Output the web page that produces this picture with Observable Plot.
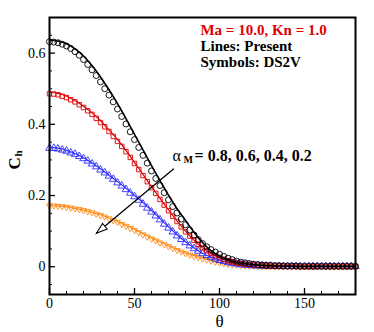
<!DOCTYPE html>
<html><head><meta charset="utf-8">
<script src="https://cdn.jsdelivr.net/npm/d3@7"></script>
<script src="https://cdn.jsdelivr.net/npm/@observablehq/plot@0.6"></script>
<style>body{margin:0;background:#fff}</style>
</head><body><div id="chart"></div>
<script>
// Angle grids (degrees)
const thetaLine = [0,5,10,15,20,25,30,35,40,45,50,55,60,65,70,75,80,85,90,95,100,105,110,115,120,125,130,135,140,145,150,155,160,165,170,175,180];
const thetaDS2V = [0,2.5,5,7.5,10,12.5,15,17.5,20,22.5,25,27.5,30,32.5,35,37.5,40,42.5,45,47.5,50,52.5,55,57.5,60,62.5,65,67.5,70,72.5,75,77.5,80,82.5,85,87.5,90,92.5,95,97.5,100,102.5,105,107.5,110,112.5,115,117.5,120,122.5,125,127.5,130,132.5,135,137.5,140,142.5,145,147.5,150,152.5,155,157.5,160,162.5,165,167.5,170,172.5,175,177.5,180];

// Present (lines), alpha_M = 0.8, 0.6, 0.4, 0.2
const lineA08 = [0.637,0.634,0.626,0.612,0.592,0.565,0.533,0.497,0.458,0.416,0.372,0.328,0.284,0.242,0.201,0.163,0.130,0.097,0.068,0.045,0.030,0.020,0.013,0.009,0.006,0.004,0.003,0.002,0.002,0.001,0.001,0.001,0.001,0.001,0.001,0.001,0.001];
const lineA06 = [0.490,0.487,0.479,0.467,0.451,0.432,0.410,0.384,0.357,0.327,0.293,0.259,0.225,0.192,0.160,0.129,0.100,0.074,0.053,0.037,0.025,0.017,0.011,0.007,0.005,0.003,0.002,0.002,0.001,0.001,0.001,0.001,0.001,0.001,0.001,0.001,0.001];
const lineA04 = [0.335,0.333,0.327,0.318,0.306,0.291,0.275,0.257,0.239,0.220,0.200,0.180,0.158,0.135,0.112,0.090,0.070,0.053,0.038,0.027,0.019,0.013,0.008,0.005,0.004,0.003,0.002,0.001,0.001,0.001,0.001,0.001,0.001,0.001,0.001,0.001,0.001];
const lineA02 = [0.172,0.171,0.168,0.164,0.159,0.153,0.146,0.137,0.127,0.116,0.105,0.093,0.081,0.070,0.059,0.048,0.039,0.031,0.024,0.017,0.012,0.008,0.005,0.003,0.002,0.001,0.001,0,0,0,0,0,0,0,0,0,0];

// DS2V (symbols)
const dsA08 = [0.632,0.631,0.629,0.625,0.620,0.613,0.604,0.594,0.582,0.568,0.553,0.537,0.519,0.500,0.482,0.463,0.443,0.422,0.401,0.379,0.357,0.335,0.313,0.291,0.269,0.248,0.228,0.208,0.188,0.169,0.151,0.134,0.118,0.103,0.089,0.076,0.065,0.056,0.048,0.041,0.035,0.029,0.024,0.020,0.016,0.013,0.011,0.009,0.007,0.006,0.005,0.004,0.004,0.003,0.003,0.002,0.002,0.002,0.002,0.001,0.001,0.001,0.001,0.001,0.001,0.001,0.001,0.001,0.001,0.001,0.001,0.001,0.001];
const dsA06 = [0.486,0.485,0.483,0.479,0.475,0.469,0.463,0.455,0.447,0.438,0.428,0.417,0.405,0.393,0.380,0.366,0.352,0.338,0.323,0.307,0.290,0.273,0.256,0.239,0.222,0.206,0.189,0.173,0.157,0.142,0.127,0.112,0.098,0.086,0.074,0.063,0.053,0.045,0.038,0.031,0.026,0.021,0.017,0.014,0.011,0.009,0.007,0.006,0.005,0.004,0.003,0.003,0.002,0.002,0.002,0.002,0.001,0.001,0.001,0.001,0.001,0.001,0.001,0.001,0.001,0.001,0.001,0.001,0.001,0.001,0.001,0.001,0.001];
const dsA04 = [0.333,0.333,0.331,0.328,0.325,0.320,0.316,0.310,0.304,0.297,0.289,0.281,0.272,0.264,0.255,0.246,0.236,0.227,0.217,0.207,0.197,0.187,0.176,0.165,0.154,0.143,0.132,0.120,0.109,0.098,0.087,0.077,0.068,0.059,0.051,0.044,0.037,0.032,0.027,0.022,0.018,0.015,0.012,0.010,0.008,0.006,0.005,0.004,0.003,0.003,0.002,0.002,0.002,0.001,0.001,0.001,0.001,0.001,0.001,0.001,0.001,0.001,0.001,0.001,0.001,0.001,0.001,0.001,0.001,0.001,0.001,0.001,0.001];
const dsA02 = [0.171,0.171,0.170,0.169,0.167,0.165,0.163,0.161,0.158,0.155,0.152,0.148,0.144,0.140,0.135,0.130,0.125,0.119,0.114,0.108,0.102,0.096,0.090,0.084,0.078,0.073,0.067,0.062,0.057,0.051,0.046,0.042,0.037,0.033,0.029,0.026,0.022,0.019,0.016,0.013,0.011,0.009,0.007,0.006,0.005,0.004,0.003,0.002,0.002,0.001,0.001,0.001,0.001,0,0,0,0,0,0,0,0,0,0,0,0,0,0,0,0,0,0,0,0];

// Axis ticks
const xMajor = [0,50,100,150];
const xMinor = [10,20,30,40,60,70,80,90,110,120,130,140,160,170];
const yMajor = [0,0.2,0.4,0.6];
const yMinor = [-0.05,0.05,0.1,0.15,0.25,0.3,0.35,0.45,0.5,0.55,0.65];

// Annotations (data coordinates)
const arrowFrom = [73.1, 0.275];
const arrowTo = [27.6, 0.094];
const legendRed = "Ma = 10.0, Kn = 1.0";
const legendBlack = "Lines: Present\nSymbols: DS2V";
const alphaText = "= 0.8, 0.6, 0.4, 0.2";

const triDown = {draw(ctx, size) {
  const s = Math.sqrt(size) * 0.62;
  ctx.moveTo(-s, -s * 0.6); ctx.lineTo(s, -s * 0.6); ctx.lineTo(0, s * 1.1); ctx.closePath();
}};
const arrowHead = {draw(ctx) {
  ctx.moveTo(0, 0); ctx.lineTo(-11, -3.6); ctx.lineTo(-11, 3.6); ctx.closePath();
}};

const series = [
  {line: lineA02, ds: dsA02, color: "#ff8c1a", symbol: triDown, r: 2.8, sw: 1.2},
  {line: lineA04, ds: dsA04, color: "#3030ff", symbol: "triangle", r: 2.8, sw: 1.2},
  {line: lineA06, ds: dsA06, color: "#e00000", symbol: "square", r: 2.5, sw: 1.2},
  {line: lineA08, ds: dsA08, color: "#000000", symbol: "circle", r: 3, sw: 1.6}
];

const marks = [];
for (const s of series) {
  marks.push(Plot.dot(thetaDS2V.map((t, i) => ({t, c: s.ds[i]})),
    {x: "t", y: "c", symbol: s.symbol, r: s.r, stroke: s.color, fill: "none", strokeWidth: 0.9}));
  marks.push(Plot.line(thetaLine.map((t, i) => ({t, c: s.line[i]})),
    {x: "t", y: "c", stroke: s.color, strokeWidth: s.sw, curve: "catmull-rom"}));
}

const serif = "'Liberation Serif', 'Times New Roman', serif";
const fmt = d => String(d);

const chart = Plot.plot({
  width: 374, height: 332,
  marginLeft: 49, marginRight: 19, marginTop: 17, marginBottom: 38,
  style: {fontFamily: serif, fontSize: "14px", background: "white", overflow: "visible"},
  x: {domain: [0, 180], axis: null},
  y: {domain: [-0.078, 0.7], axis: null},
  marks: [
    ...marks,
    Plot.link([[arrowFrom, arrowTo]], {x1: d => d[0][0], y1: d => d[0][1], x2: d => d[1][0], y2: d => d[1][1], stroke: "black", strokeWidth: 1.3}),
    Plot.dot([arrowTo], {x: d => d[0], y: d => d[1], symbol: arrowHead, rotate: 140, stroke: "black", fill: "white", strokeWidth: 1.1}),
    // axes: labels
    Plot.axisX(xMajor, {anchor: "bottom", tickSize: 0, tickPadding: 4, label: null, fontSize: 14, fontFamily: serif, tickFormat: fmt}),
    Plot.axisY(yMajor, {anchor: "left", tickSize: 0, tickPadding: 4, label: null, fontSize: 14, fontFamily: serif, tickFormat: fmt}),
    // inward ticks
    Plot.axisX(xMajor, {anchor: "bottom", tickSize: 6, dy: -6, fill: "none", label: null, strokeWidth: 1.3}),
    Plot.axisX(xMinor, {anchor: "bottom", tickSize: 3, dy: -3, fill: "none", label: null}),
    Plot.axisY(yMajor, {anchor: "left", tickSize: 6, dx: 6, fill: "none", label: null, strokeWidth: 1.3}),
    Plot.axisY(yMinor, {anchor: "left", tickSize: 3, dx: 3, fill: "none", label: null}),
    Plot.frame({stroke: "black", strokeWidth: 2}),
    // legend text
    Plot.text([legendRed], {x: 88.8, y: 0.680, text: d => d, textAnchor: "start", lineAnchor: "top", fill: "#e00000", fontWeight: "bold", fontSize: 15, fontFamily: serif}),
    Plot.text([legendBlack], {x: 88.8, y: 0.636, text: d => d, textAnchor: "start", lineAnchor: "top", lineHeight: 1.05, fill: "black", fontWeight: "bold", fontSize: 15, fontFamily: serif}),
    // alpha_M annotation
    Plot.text(["α"], {x: 72.4, y: 0.330, text: d => d, textAnchor: "start", lineAnchor: "top", fill: "black", fontSize: 16, fontFamily: serif}),
    Plot.text(["M"], {x: 78.8, y: 0.312, text: d => d, textAnchor: "start", lineAnchor: "top", fill: "black", fontWeight: "bold", fontSize: 10, fontFamily: serif}),
    Plot.text([alphaText], {x: 85.3, y: 0.329, text: d => d, textAnchor: "start", lineAnchor: "top", fill: "black", fontWeight: "bold", fontSize: 16, fontFamily: serif}),
    // axis titles
    Plot.text(["C"], {x: -20.6, y: 0.290, text: d => d, rotate: -90, textAnchor: "middle", lineAnchor: "middle", fontWeight: "bold", fontSize: 17, fontFamily: serif}),
    Plot.text(["h"], {x: -18.3, y: 0.318, text: d => d, rotate: -90, textAnchor: "middle", lineAnchor: "middle", fontWeight: "bold", fontSize: 11, fontFamily: serif}),
    Plot.text(["θ"], {x: 100, y: -0.155, text: d => d, textAnchor: "middle", lineAnchor: "middle", fontSize: 17, fontFamily: serif})
  ]
});
document.getElementById("chart").appendChild(chart);
</script>
</body></html>
